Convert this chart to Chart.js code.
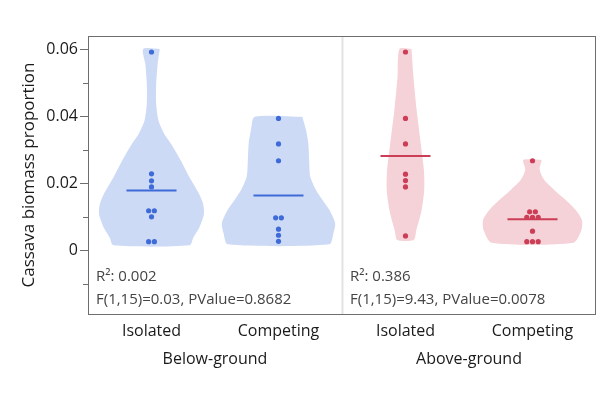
<!DOCTYPE html>
<html>
<head>
<meta charset="utf-8">
<script src="https://cdn.jsdelivr.net/npm/chart.js@4.4.1/dist/chart.umd.min.js"></script>
<style>
  body { margin: 0; background: #fff; }
  #wrap { width: 604px; height: 394px; }
</style>
</head>
<body>
<div id="wrap"><canvas id="chart" width="604" height="394"></canvas></div>
<script>
const categories = ["Isolated", "Competing", "Isolated", "Competing"];
const groups = ["Below-ground", "Above-ground"];
const yTicks = [0, 0.02, 0.04, 0.06];
const yMinorTicks = [-0.01, 0.01, 0.03, 0.05];

// observations per group
const belowIsolated = [0.0592, 0.0229, 0.0208, 0.0190, 0.0119, 0.0119, 0.0101, 0.0027, 0.0027];
const belowCompeting = [0.0394, 0.0318, 0.0268, 0.0098, 0.0098, 0.0064, 0.0046, 0.0028];
const aboveIsolated = [0.0592, 0.0394, 0.0318, 0.0228, 0.0209, 0.0190, 0.0044];
const aboveCompeting = [0.0268, 0.0116, 0.0116, 0.0099, 0.0099, 0.0099, 0.0058, 0.0027, 0.0027, 0.0027];

// violin outlines: levels and relative density
const belowIsolatedLevels = [0.0601, 0.0556, 0.0497, 0.0437, 0.0388, 0.0348, 0.0318, 0.0268, 0.0219, 0.0169, 0.0139, 0.0109, 0.0070, 0.0040, 0.0016];
const belowIsolatedDensity = [0.146, 0.109, 0.083, 0.083, 0.123, 0.226, 0.347, 0.520, 0.670, 0.841, 0.912, 0.926, 0.847, 0.741, 0.670];
const belowCompetingLevels = [0.0399, 0.0360, 0.0320, 0.0270, 0.0221, 0.0181, 0.0151, 0.0121, 0.0082, 0.0052, 0.0019];
const belowCompetingDensity = [0.420, 0.485, 0.526, 0.541, 0.561, 0.661, 0.776, 0.899, 1.0, 0.970, 0.896];
const aboveIsolatedLevels = [0.0601, 0.0517, 0.0417, 0.0318, 0.0238, 0.0179, 0.0119, 0.0060, 0.0032];
const aboveIsolatedDensity = [0.106, 0.141, 0.198, 0.270, 0.326, 0.330, 0.282, 0.189, 0.146];
const aboveCompetingLevels = [0.0270, 0.0241, 0.0211, 0.0181, 0.0151, 0.0121, 0.0091, 0.0062, 0.0024];
const aboveCompetingDensity = [0.162, 0.127, 0.206, 0.383, 0.587, 0.764, 0.873, 0.864, 0.720];

const statsText = [
  ["R²: 0.002", "F(1,15)=0.03, PValue=0.8682"],
  ["R²: 0.386", "F(1,15)=9.43, PValue=0.0078"]
];

const BLUE = "#3f6bd8", BLUE_FILL = "#cddaf6";
const RED = "#cc3d56", RED_FILL = "#f5d1d8";
const violinHalf = 0.446;   // x units for density 1
const dotStep = 0.045;      // horizontal step between equal values
const meanHalf = 0.197;

const groupsData = [
  { vals: belowIsolated, lev: belowIsolatedLevels, den: belowIsolatedDensity, c: BLUE, f: BLUE_FILL },
  { vals: belowCompeting, lev: belowCompetingLevels, den: belowCompetingDensity, c: BLUE, f: BLUE_FILL },
  { vals: aboveIsolated, lev: aboveIsolatedLevels, den: aboveIsolatedDensity, c: RED, f: RED_FILL },
  { vals: aboveCompeting, lev: aboveCompetingLevels, den: aboveCompetingDensity, c: RED, f: RED_FILL }
];

const datasets = [];
groupsData.forEach((g, i) => {
  const cx = i + 0.5;
  const right = g.lev.map((y, k) => ({ x: cx + g.den[k] * violinHalf, y }));
  const left = g.lev.map((y, k) => ({ x: cx - g.den[k] * violinHalf, y })).reverse();
  const outline = right.concat(left, [right[0]]);
  datasets.push({
    type: "line", data: outline, showLine: true, fill: "shape",
    backgroundColor: g.f, borderWidth: 0, borderColor: "rgba(0,0,0,0)",
    pointRadius: 0, tension: 0.25, order: 3
  });
  const mean = g.vals.reduce((a, b) => a + b, 0) / g.vals.length;
  datasets.push({
    type: "line", data: [{ x: cx - meanHalf, y: mean }, { x: cx + meanHalf, y: mean }],
    borderColor: g.c, borderWidth: 2, pointRadius: 0, fill: false, order: 2
  });
  const counts = {};
  g.vals.forEach(v => { counts[v] = (counts[v] || 0) + 1; });
  const seen = {};
  const pts = g.vals.map(v => {
    const k = seen[v] = (seen[v] || 0) + 1;
    return { x: cx + (k - 1 - (counts[v] - 1) / 2) * dotStep, y: v };
  });
  datasets.push({
    type: "scatter", data: pts, backgroundColor: g.c, borderWidth: 0,
    pointRadius: 2.6, order: 1
  });
});

const decor = {
  id: "decor",
  afterDatasetsDraw(chart) {
    const { ctx, chartArea: a, scales: { x, y } } = chart;
    ctx.save();
    // divider between panels
    const dx = Math.round(x.getPixelForValue(2)) + 0.5;
    ctx.strokeStyle = "#e3e3e3";
    ctx.lineWidth = 2;
    ctx.beginPath(); ctx.moveTo(dx, a.top); ctx.lineTo(dx, a.bottom); ctx.stroke();
    // frame
    ctx.strokeStyle = "#6e6e6e";
    ctx.lineWidth = 1;
    ctx.strokeRect(a.left + 0.5, a.top + 0.5, a.right - a.left - 1, a.bottom - a.top);
    // minor ticks
    yMinorTicks.forEach(v => {
      const py = Math.round(y.getPixelForValue(v)) + 0.5;
      ctx.beginPath(); ctx.moveTo(a.left - 5, py); ctx.lineTo(a.left, py); ctx.stroke();
    });
    // stats text
    ctx.fillStyle = "#444";
    ctx.font = "15px 'Open Sans', sans-serif";
    ctx.textBaseline = "middle";
    statsText.forEach((lines, p) => {
      const tx = x.getPixelForValue(p * 2) + 8;
      ctx.fillText(lines[0], tx, 277);
      ctx.fillText(lines[1], tx, 300);
    });
    ctx.restore();
  }
};

Chart.defaults.font.family = "'Open Sans', sans-serif";
Chart.defaults.color = "#1a1a1a";

new Chart(document.getElementById("chart"), {
  type: "scatter",
  data: { datasets },
  options: {
    responsive: false,
    animation: false,
    layout: { padding: { top: 36, right: 8, left: 0, bottom: 0 } },
    plugins: { legend: { display: false }, tooltip: { enabled: false } },
    scales: {
      x: {
        type: "linear", min: 0, max: 4,
        afterBuildTicks: s => { s.ticks = categories.map((c, i) => ({ value: i + 0.5 })); },
        ticks: { callback: (v) => categories[Math.floor(v)], font: { size: 16 }, padding: 8, autoSkip: false, maxRotation: 0 },
        grid: { display: false, drawTicks: false },
        border: { display: false },
        afterFit: s => { s.height = 32; }
      },
      xg: {
        type: "category", position: "bottom", labels: groups, offset: true,
        ticks: { font: { size: 16 }, padding: 4 },
        grid: { display: false, drawTicks: false },
        border: { display: false },
        afterFit: s => { s.height = 48; }
      },
      y: {
        min: -0.01886, max: 0.06396,
        afterBuildTicks: s => { s.ticks = yTicks.map(v => ({ value: v })); },
        ticks: { callback: v => v === 0 ? "0" : v.toFixed(2), font: { size: 16 }, padding: 2 },
        grid: { drawOnChartArea: false, tickLength: 8, tickColor: "#6e6e6e" },
        border: { display: false },
        title: { display: true, text: "Cassava biomass proportion", font: { size: 17 }, padding: { top: 19, bottom: 0 } },
        afterFit: s => { s.width = 88; }
      }
    }
  },
  plugins: [decor]
});
</script>
</body>
</html>
